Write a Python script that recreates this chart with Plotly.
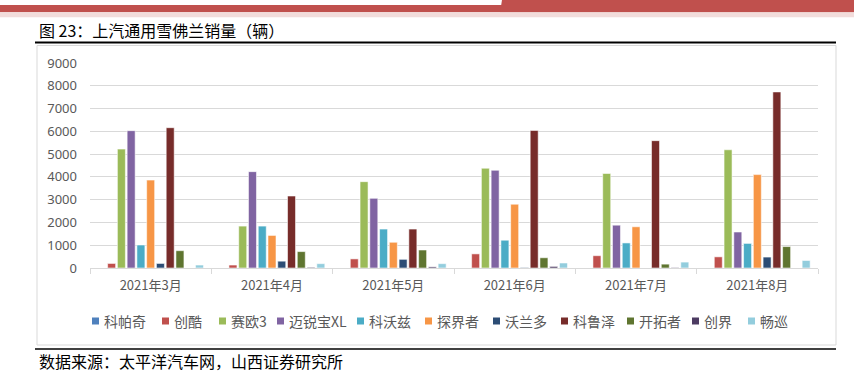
import plotly.graph_objects as go

# ---------------- data ----------------
months = ["2021年3月", "2021年4月", "2021年5月", "2021年6月", "2021年7月", "2021年8月"]
series_names = ["科帕奇", "创酷", "赛欧3", "迈锐宝XL", "科沃兹", "探界者", "沃兰多", "科鲁泽", "开拓者", "创界", "畅巡"]
v_kepaqi = [0, 0, 0, 0, 0, 0]
v_chuangku = [200, 130, 400, 620, 540, 490]
v_saiou3 = [5220, 1840, 3790, 4380, 4150, 5190]
v_mairuibao = [6030, 4230, 3060, 4290, 1880, 1580]
v_kewozi = [1010, 1840, 1710, 1220, 1100, 1080]
v_tanjiezhe = [3860, 1430, 1130, 2800, 1810, 4100]
v_wolanduo = [200, 300, 380, 20, 0, 480]
v_kelueze = [6160, 3160, 1710, 6040, 5590, 7730]
v_kaituozhe = [760, 720, 790, 450, 170, 940]
v_chuangjie = [0, 30, 50, 70, 20, 0]
v_changxun = [130, 190, 190, 220, 260, 330]
series_values = [v_kepaqi, v_chuangku, v_saiou3, v_mairuibao, v_kewozi, v_tanjiezhe,
                 v_wolanduo, v_kelueze, v_kaituozhe, v_chuangjie, v_changxun]
y_ticks = [0, 1000, 2000, 3000, 4000, 5000, 6000, 7000, 8000, 9000]

title_text = "图 23：上汽通用雪佛兰销量（辆）"
source_text = "数据来源：太平洋汽车网，山西证券研究所"

# ---------------- styles ----------------
colors = ["#4F81BD", "#C0504D", "#9BBB59", "#8064A2", "#4BACC6", "#F79646",
          "#2C4D75", "#772C2A", "#5F7530", "#4D3B62", "#93CDDD"]
W, H = 854, 373
L, R, T, B = 90, 36, 63, 105
CJK = "Noto Sans CJK SC"
GRAY = "#595959"


def px(x):
    return (x - L) / (W - L - R)


def py(y):
    return (H - B - y) / (H - T - B)


fig = go.Figure()
for name, vals, col in zip(series_names, series_values, colors):
    fig.add_trace(go.Bar(
        name=name, x=months, y=vals,
        marker=dict(color=col, line=dict(color="rgba(255,255,255,0.7)", width=0.8)),
        showlegend=False,
    ))

shapes = []
# top decorative bands
shapes.append(dict(type="rect", xref="paper", yref="paper", x0=px(0), x1=px(W), y0=py(12.3), y1=py(5),
                   fillcolor="#C0504D", line=dict(width=0), layer="above"))
path = "M {},{} L {},{} L {},{} L {},{} Z".format(px(500), py(12.3), px(502), py(0), px(W), py(0), px(W), py(12.3))
shapes.append(dict(type="path", xref="paper", yref="paper", path=path,
                   fillcolor="#C0504D", line=dict(width=0), layer="above"))
shapes.append(dict(type="rect", xref="paper", yref="paper", x0=px(0), x1=px(W), y0=py(17.3), y1=py(12.3),
                   fillcolor="#F2DCDB", line=dict(width=0), layer="above"))
# title underline
shapes.append(dict(type="line", xref="paper", yref="paper", x0=px(35), x1=px(836), y0=py(42.5), y1=py(42.5),
                   line=dict(color="#000000", width=2)))
# chart box
shapes.append(dict(type="rect", xref="paper", yref="paper", x0=px(37), x1=px(836), y0=py(345), y1=py(45.5),
                   line=dict(color="#D9D9D9", width=1), layer="below"))
# footer line
shapes.append(dict(type="line", xref="paper", yref="paper", x0=px(35), x1=px(836), y0=py(349), y1=py(349),
                   line=dict(color="#404040", width=2)))

# manual legend
legend_x = [92, 162, 219, 277, 357, 425, 493, 561, 627, 692, 748]
legend_y = 321
annotations = []
for name, col, lx in zip(series_names, colors, legend_x):
    shapes.append(dict(type="rect", xref="paper", yref="paper", x0=px(lx), x1=px(lx + 7),
                       y0=py(legend_y + 3.5), y1=py(legend_y - 3.5), fillcolor=col, line=dict(width=0)))
    annotations.append(dict(xref="paper", yref="paper", x=px(lx + 10), y=py(legend_y), text=name,
                            showarrow=False, xanchor="left", yanchor="middle",
                            font=dict(family=CJK, size=14, color=GRAY)))

annotations.append(dict(xref="paper", yref="paper", x=px(37), y=py(30), text=title_text, showarrow=False,
                        xanchor="left", yanchor="middle", font=dict(family=CJK, size=16, color="#000000")))
annotations.append(dict(xref="paper", yref="paper", x=px(37), y=py(361), text=source_text, showarrow=False,
                        xanchor="left", yanchor="middle", font=dict(family=CJK, size=16, color="#000000")))

fig.update_layout(
    width=W, height=H,
    margin=dict(l=L, r=R, t=T, b=B, pad=0),
    paper_bgcolor="white", plot_bgcolor="white",
    barmode="group", bargap=0.115, bargroupgap=0.18,
    showlegend=False,
    shapes=shapes, annotations=annotations,
    xaxis=dict(type="category", showline=True, linecolor="#D9D9D9", linewidth=1,
               ticks="outside", tickson="boundaries", ticklen=5, tickcolor="#D9D9D9",
               ticklabelstandoff=5,
               tickfont=dict(family=CJK, size=13, color=GRAY), showgrid=False),
    yaxis=dict(range=[0, 9000], tickvals=y_ticks, showgrid=True, gridcolor="#D9D9D9", gridwidth=1,
               zeroline=False, showline=False, ticks="", ticklabelstandoff=12,
               tickfont=dict(family="Noto Sans", size=13, color=GRAY)),
)

fig.write_html("out.html")
